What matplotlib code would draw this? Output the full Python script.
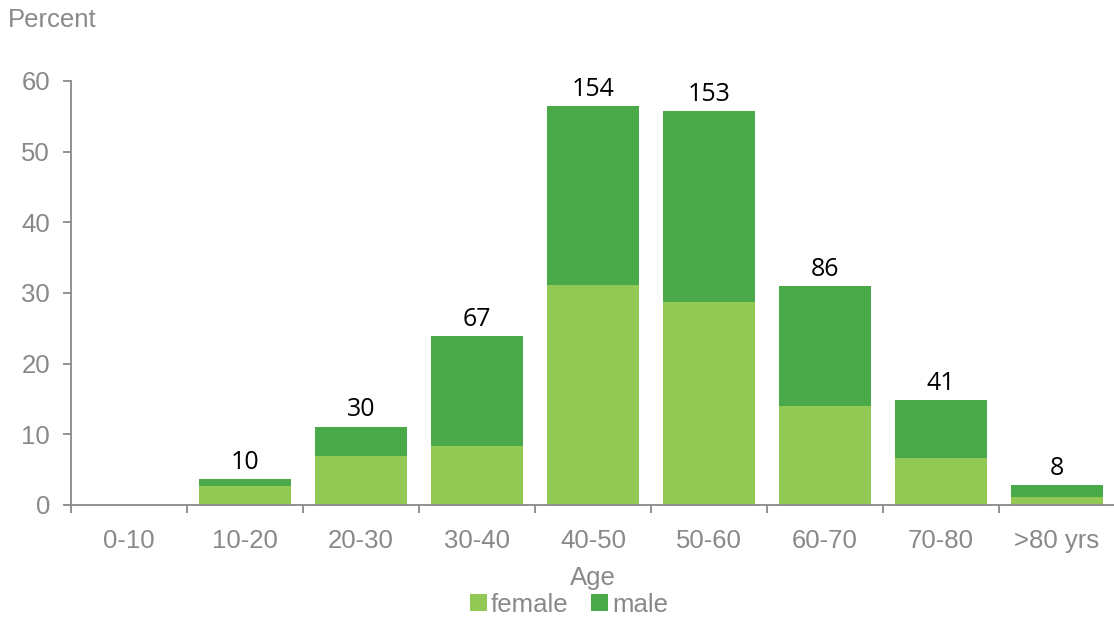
import matplotlib
matplotlib.use("Agg")
import matplotlib.pyplot as plt
import numpy as np

# Age groups and share of each sex (percent of that sex's cases)
age_groups = ["0-10", "10-20", "20-30", "30-40", "40-50", "50-60", "60-70", "70-80", ">80 yrs"]
female_pct = [0.0, 2.7, 7.0, 8.4, 31.1, 28.7, 14.0, 6.6, 1.1]
male_pct = [0.0, 1.0, 4.1, 15.5, 25.4, 27.1, 17.0, 8.2, 1.7]
# Number of cases per age group, shown above each bar
case_counts = [None, 10, 30, 67, 154, 153, 86, 41, 8]

FEMALE_COLOR = "#92C955"
MALE_COLOR = "#4AAA4A"
GRAY = "#898989"
FS = 18.5

plt.rcParams["font.family"] = ["Liberation Sans", "DejaVu Sans"]

fig = plt.figure(figsize=(11.14, 6.19), dpi=100)
ax = fig.add_axes([71 / 1114, 114 / 619, 1044 / 1114, 424 / 619])

x = np.arange(len(age_groups))
female = np.array(female_pct)
male = np.array(male_pct)

ax.bar(x, female, width=0.8, color=FEMALE_COLOR, label="female", zorder=2)
ax.bar(x, male, width=0.8, bottom=female, color=MALE_COLOR, label="male", zorder=2)

for xi, total, n in zip(x, female + male, case_counts):
    if n is None:
        continue
    ax.annotate(str(n), (xi, total), xytext=(0, 3), textcoords="offset points",
                ha="center", va="bottom", fontsize=18, color="black",
                family=["Open Sans", "DejaVu Sans"])

ax.set_xlim(-0.5, len(age_groups) - 0.5)
ax.set_ylim(0, 60)
ax.set_yticks(np.arange(0, 61, 10))

# Category boundaries as major ticks, labels at the category centres
ax.set_xticks(np.arange(-0.5, len(age_groups)), labels=[""] * (len(age_groups) + 1))
ax.set_xticks(x, labels=age_groups, minor=True)
ax.tick_params(axis="x", which="major", length=6, width=1.3, color=GRAY, direction="out")
ax.tick_params(axis="x", which="minor", length=0, pad=17, labelsize=FS, labelcolor=GRAY)
ax.tick_params(axis="y", length=6, width=1.3, color=GRAY, direction="out",
               labelsize=FS, labelcolor=GRAY, pad=9)

for side in ("top", "right"):
    ax.spines[side].set_visible(False)
for side in ("left", "bottom"):
    ax.spines[side].set_color(GRAY)
    ax.spines[side].set_linewidth(1.3)

ax.set_xlabel("Age", fontsize=FS, color=GRAY, labelpad=10)
fig.text(8 / 1114, 1 - 20 / 619, "Percent", fontsize=FS, color=GRAY, ha="left", va="center")

leg = ax.legend(loc="center", bbox_to_anchor=(0.477, -0.235), ncol=2, frameon=False,
                fontsize=FS, handlelength=0.65, handleheight=0.65, handletextpad=0.15,
                columnspacing=0.9, borderaxespad=0, borderpad=0)
for t in leg.get_texts():
    t.set_color(GRAY)

fig.savefig("out.png", dpi=100, facecolor="white")
